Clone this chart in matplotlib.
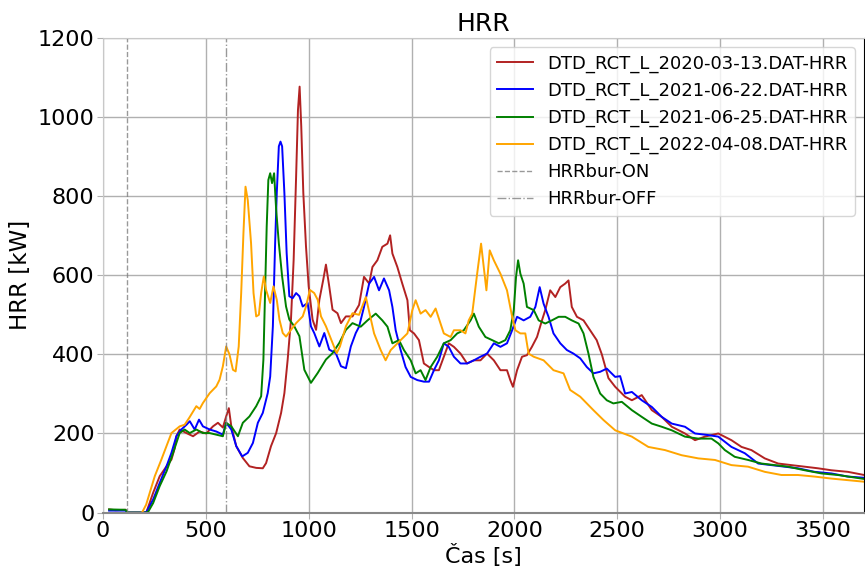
import matplotlib
matplotlib.use('Agg')
import matplotlib.pyplot as plt

# HRR curves (time [s], HRR [kW])
t_0313 = [30, 60, 110, 120, 200, 212, 244, 276, 309, 333, 349, 357, 373, 406, 438, 470, 502, 535, 559, 583,
          599, 612, 624, 648, 680, 712, 745, 777, 793, 817, 842, 866, 882, 898, 914, 927, 939, 948, 956, 964,
          974, 987, 1000, 1019, 1036, 1052, 1071, 1084, 1100, 1116, 1140, 1157, 1181, 1213, 1245, 1269, 1294,
          1310, 1334, 1358, 1383, 1396, 1407, 1431, 1455, 1480, 1492, 1512, 1536, 1560, 1585, 1609, 1633, 1657,
          1681, 1706, 1738, 1770, 1803, 1835, 1867, 1900, 1932, 1964, 1980, 1993, 2013, 2037, 2061, 2085, 2110,
          2134, 2150, 2174, 2199, 2223, 2247, 2263, 2279, 2304, 2336, 2368, 2400, 2425, 2457, 2490, 2538, 2571,
          2619, 2668, 2716, 2765, 2829, 2878, 2926, 2991, 3055, 3104, 3152, 3217, 3282, 3346, 3411, 3475, 3540,
          3621, 3700]
hrr_0313 = [8, 6, 7, 0, 0, 2, 50, 92, 117, 134, 163, 193, 210, 201, 193, 205, 200, 218, 227, 215,
            243, 264, 218, 168, 138, 117, 113, 112, 125, 168, 201, 252, 302, 387, 488, 639, 850, 1018, 1077, 976,
            808, 673, 572, 488, 462, 538, 589, 627, 572, 513, 504, 479, 496, 496, 525, 596, 579,
            621, 638, 672, 680, 701, 655, 621, 579, 537, 461, 453, 436, 377, 368, 360, 360, 394,
            428, 419, 402, 377, 385, 385, 402, 385, 360, 360, 335, 318, 360, 394, 398, 419, 444,
            486, 512, 562, 545, 570, 579, 587, 520, 495, 486, 461, 436, 400, 340, 318, 293, 284,
            297, 259, 242, 217, 200, 183, 192, 200, 183, 166, 158, 137, 124, 120, 116, 112, 107,
            103, 95]

t_0622 = [30, 110, 120, 200, 212, 244, 276, 309, 333, 357, 381, 406, 422, 446, 467, 486, 519, 551, 583, 599,
          624, 648, 677, 704, 729, 753, 777, 801, 813, 826, 837, 845, 855, 863, 871, 882, 893, 906, 922, 939,
          955, 971, 995, 1011, 1027, 1052, 1076, 1100, 1132, 1157, 1181, 1205, 1229, 1245, 1269, 1294, 1318,
          1342, 1366, 1391, 1407, 1423, 1447, 1471, 1496, 1528, 1560, 1585, 1609, 1633, 1657, 1681, 1706, 1738,
          1770, 1803, 1835, 1867, 1900, 1932, 1964, 1989, 2013, 2045, 2077, 2102, 2123, 2142, 2166, 2190, 2223,
          2255, 2287, 2320, 2352, 2384, 2417, 2449, 2490, 2514, 2538, 2571, 2619, 2668, 2716, 2765, 2829, 2878,
          2942, 2991, 3055, 3120, 3185, 3249, 3314, 3378, 3459, 3540, 3621, 3700]
hrr_0622 = [5, 5, 0, 0, 2, 33, 75, 117, 151, 193, 210, 222, 231, 210, 235, 218, 210, 205, 197, 227,
            210, 168, 142, 151, 176, 227, 252, 302, 344, 471, 681, 808, 926, 938, 926, 808, 656, 547, 542, 555,
            547, 521, 530, 471, 454, 420, 454, 412, 403, 370, 365, 420, 454, 470, 520, 579, 596,
            562, 592, 562, 520, 461, 411, 368, 343, 335, 331, 331, 360, 385, 428, 419, 394, 377,
            377, 385, 394, 402, 428, 419, 428, 461, 495, 486, 495, 520, 570, 528, 495, 453, 428,
            411, 402, 390, 368, 352, 356, 364, 343, 345, 301, 305, 284, 267, 242, 225, 217, 200,
            196, 192, 166, 150, 124, 120, 116, 112, 103, 99, 91, 88]

t_0625 = [30, 110, 120, 210, 220, 244, 276, 309, 341, 373, 397, 422, 454, 486, 519, 551, 583, 599, 624, 656,
          680, 712, 745, 769, 780, 788, 796, 804, 813, 822, 832, 842, 855, 871, 890, 906, 930, 955, 979, 1011,
          1044, 1084, 1116, 1149, 1181, 1213, 1253, 1286, 1326, 1358, 1383, 1407, 1439, 1463, 1496, 1520, 1544,
          1568, 1593, 1625, 1657, 1690, 1722, 1754, 1787, 1803, 1827, 1859, 1892, 1924, 1956, 1980, 1997, 2008,
          2018, 2029, 2045, 2061, 2094, 2118, 2150, 2182, 2215, 2247, 2279, 2312, 2336, 2360, 2384, 2417, 2449,
          2481, 2522, 2571, 2619, 2668, 2716, 2765, 2829, 2894, 2958, 2991, 3023, 3071, 3136, 3201, 3265, 3330,
          3411, 3492, 3572, 3700]
hrr_0625 = [8, 7, 0, 0, 2, 24, 67, 104, 151, 201, 210, 201, 210, 201, 201, 197, 193, 227, 218, 193,
            227, 243, 269, 294, 387, 555, 723, 841, 858, 833, 858, 766, 681, 597, 521, 488, 471, 446, 361, 328,
            353, 387, 403, 429, 462, 479, 470, 486, 503, 486, 470, 428, 436, 411, 385, 352, 360,
            335, 368, 394, 428, 436, 453, 461, 486, 503, 470, 444, 436, 428, 436, 461, 512, 596,
            638, 604, 579, 520, 512, 486, 478, 486, 495, 495, 486, 478, 453, 402, 343, 301, 284,
            276, 280, 259, 242, 225, 217, 208, 192, 187, 187, 175, 158, 141, 133, 124, 120, 116,
            107, 99, 95, 85]

t_0408 = [190, 210, 252, 284, 333, 373, 397, 420, 454, 470, 486, 519, 551, 567, 583, 599, 615, 632, 645, 660,
          672, 683, 693, 704, 720, 732, 745, 758, 769, 782, 793, 813, 829, 845, 858, 874, 890, 914, 939, 971,
          987, 1006, 1027, 1044, 1060, 1084, 1116, 1136, 1152, 1181, 1213, 1245, 1278, 1318, 1350, 1374, 1399,
          1447, 1480, 1504, 1520, 1544, 1568, 1593, 1617, 1641, 1657, 1690, 1706, 1738, 1762, 1778, 1795, 1819,
          1838, 1864, 1880, 1900, 1932, 1964, 1989, 2005, 2029, 2053, 2069, 2094, 2142, 2190, 2239, 2271, 2320,
          2384, 2433, 2490, 2571, 2651, 2732, 2813, 2894, 2975, 3055, 3136, 3217, 3298, 3378, 3459, 3540, 3700]
hrr_0408 = [0, 20, 92, 134, 201, 218, 222, 240, 269, 262, 277, 302, 319, 336, 370, 420, 400, 361, 357, 420,
            555, 707, 824, 790, 681, 555, 496, 500, 555, 597, 563, 530, 572, 538, 488, 454, 445, 462, 479, 496,
            521, 563, 555, 538, 496, 471, 429, 403, 420, 471, 504, 500, 545, 453, 411, 385, 411,
            436, 453, 512, 537, 503, 512, 495, 516, 478, 453, 444, 461, 461, 453, 486, 503, 604,
            680, 562, 663, 638, 604, 562, 495, 461, 453, 453, 402, 394, 385, 360, 352, 310, 293,
            259, 234, 208, 192, 166, 158, 145, 137, 133, 120, 116, 103, 95, 95, 91, 86, 78]

labels = ['DTD_RCT_L_2020-03-13.DAT-HRR', 'DTD_RCT_L_2021-06-22.DAT-HRR',
          'DTD_RCT_L_2021-06-25.DAT-HRR', 'DTD_RCT_L_2022-04-08.DAT-HRR']
colors = ['firebrick', 'blue', 'green', 'orange']
burner_on = 117
burner_off = 600

fig = plt.figure(figsize=(8.65, 5.67), dpi=100)
ax = fig.add_subplot(111)
fig.subplots_adjust(left=0.119, right=0.999, bottom=0.096, top=0.933)

series = [(t_0313, hrr_0313), (t_0622, hrr_0622), (t_0625, hrr_0625), (t_0408, hrr_0408)]
for (t, v), lab, c in zip(series, labels, colors):
    ax.plot(t, v, color=c, lw=1.4, label=lab)

ax.axvline(burner_on, color='gray', ls='--', lw=1, alpha=0.8, label='HRRbur-ON')
ax.axvline(burner_off, color='gray', ls='-.', lw=1, alpha=0.8, label='HRRbur-OFF')

ax.set_xlim(0, 3700)
ax.set_ylim(0, 1200)
ax.set_title('HRR', fontsize=18, pad=5)
ax.set_xlabel('Čas [s]', fontsize=16, labelpad=2)
ax.set_ylabel('HRR [kW]', fontsize=16.5)
ax.tick_params(labelsize=16, color='#b0b0b0', length=4, pad=2)
ax.grid(True, color='#b0b0b0', lw=1)
ax.set_axisbelow(True)
for s in ['left', 'top']:
    ax.spines[s].set_color('#c8c8c8')
ax.spines['bottom'].set_color('#888888')
ax.spines['bottom'].set_linewidth(1.5)
ax.spines['right'].set_color('black')

ax.legend(loc='upper right', fontsize=13, framealpha=0.8)

plt.savefig('out.png', dpi=100)
